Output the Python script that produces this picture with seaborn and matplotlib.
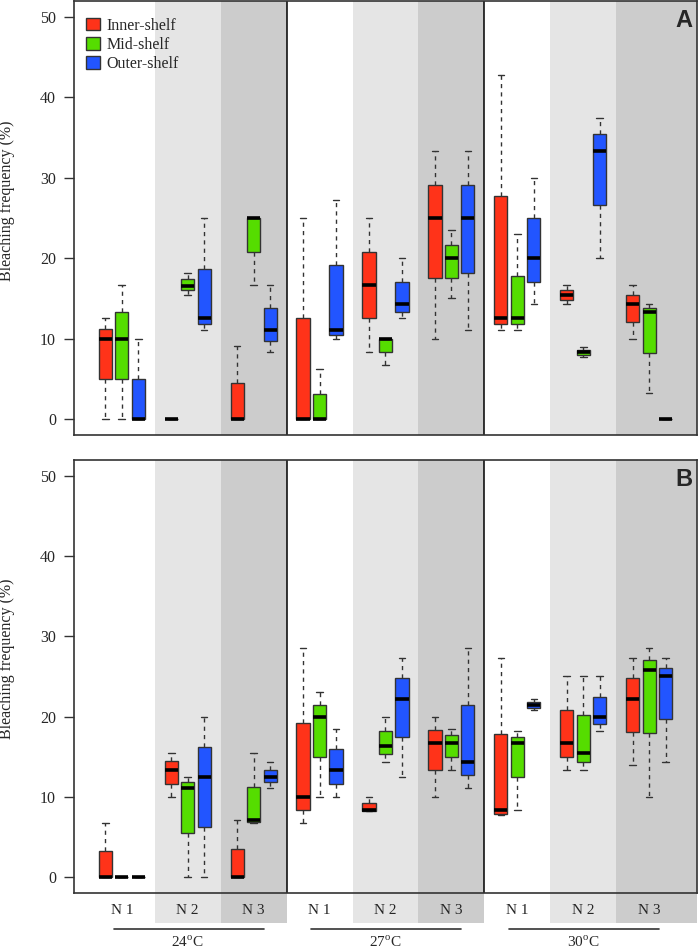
import numpy as np
import pandas as pd
import matplotlib
matplotlib.use("Agg")
import matplotlib.pyplot as plt
import matplotlib.transforms as mtransforms
from matplotlib.patches import Patch
import seaborn as sns

# categories
shelves = ["Inner-shelf", "Mid-shelf", "Outer-shelf"]
temps = ["24", "27", "30"]
nutrients = ["N 1", "N 2", "N 3"]
shelf_colors = ["#ff3319", "#55dd00", "#2255ff"]

# five-number summaries (min, q1, median, q3, max),
# one per group in order 24-N1, 24-N2, 24-N3, 27-N1 ... 30-N3
a_inner = [[0, 5, 10, 11.2, 12.5], [0, 0, 0, 0, 0], [0, 0, 0, 4.5, 9.1],
           [0, 0, 0, 12.5, 25], [8.3, 12.5, 16.7, 20.8, 25], [10, 17.5, 25, 29.1, 33.3],
           [11.1, 11.8, 12.5, 27.7, 42.8], [14.3, 14.8, 15.4, 16, 16.7], [10, 12.1, 14.3, 15.4, 16.7]]
a_mid = [[0, 5, 10, 13.3, 16.7], [15.4, 16.0, 16.6, 17.4, 18.1], [16.7, 20.8, 25, 25, 25],
         [0, 0, 0, 3.1, 6.2], [6.7, 8.3, 10, 10, 10], [15, 17.5, 20, 21.7, 23.5],
         [11.1, 11.8, 12.5, 17.8, 23], [7.7, 8.0, 8.3, 8.6, 9.0], [3.2, 8.2, 13.3, 13.8, 14.3]]
a_outer = [[0, 0, 0, 5, 10], [11.1, 11.8, 12.5, 18.7, 25], [8.3, 9.7, 11.1, 13.8, 16.7],
           [10, 10.5, 11.1, 19.1, 27.2], [12.5, 13.3, 14.3, 17.1, 20], [11.1, 18.1, 25, 29.1, 33.3],
           [14.3, 17.1, 20, 25, 30], [20, 26.6, 33.3, 35.4, 37.5], [0, 0, 0, 0, 0]]

b_inner = [[0, 0, 0, 3.3, 6.7], [10, 11.6, 13.3, 14.4, 15.4], [0, 0, 0, 3.5, 7.1],
           [6.7, 8.3, 10, 19.2, 28.5], [8.2, 8.2, 8.4, 9.2, 10], [10, 13.3, 16.7, 18.3, 20],
           [7.7, 7.9, 8.3, 17.8, 27.3], [13.3, 15, 16.7, 20.8, 25], [14, 18.1, 22.2, 24.8, 27.3]]
b_mid = [[0, 0, 0, 0, 0], [0, 5.5, 11.1, 11.8, 12.5], [6.7, 6.9, 7.1, 11.2, 15.4],
         [10, 15, 20, 21.5, 23.1], [14.3, 15.3, 16.3, 18.2, 20], [13.3, 15, 16.7, 17.7, 18.5],
         [8.3, 12.5, 16.7, 17.4, 18.2], [13.3, 14.3, 15.4, 20.2, 25], [10, 17.9, 25.8, 27.1, 28.5]]
b_outer = [[0, 0, 0, 0, 0], [0, 6.2, 12.5, 16.2, 20], [11.1, 11.8, 12.5, 13.3, 14.3],
           [10, 11.6, 13.3, 15.9, 18.5], [12.5, 17.4, 22.2, 24.8, 27.3], [11.1, 12.7, 14.3, 21.4, 28.5],
           [20.8, 21.1, 21.4, 21.8, 22.2], [18.2, 19.1, 20, 22.5, 25], [14.3, 19.7, 25, 26.1, 27.3]]


def make_frame(series):
    rows = []
    for s, boxes in enumerate(series):
        for g, vals in enumerate(boxes):
            for v in vals:
                rows.append({"pos": g * 4 + s + 1, "value": v, "shelf": shelves[s]})
    return pd.DataFrame(rows)


sns.set_style("ticks")
plt.rcParams["font.family"] = ["Liberation Serif", "DejaVu Serif"]
plt.rcParams["mathtext.fontset"] = "custom"
plt.rcParams["mathtext.rm"] = "Liberation Serif"

fig = plt.figure(figsize=(7, 9.49), dpi=100)
ax_a = fig.add_axes([0.1057, 0.5416, 0.8900, 0.4573])
ax_b = fig.add_axes([0.1057, 0.0590, 0.8900, 0.4563])

xlim = (-0.9, 36.9)
edge = "#333333"

for ax, series, letter in [(ax_a, [a_inner, a_mid, a_outer], "A"),
                           (ax_b, [b_inner, b_mid, b_outer], "B")]:
    df = make_frame(series)
    below = -0.069 if ax is ax_b else 0
    # background bands for N2 / N3
    for t in range(3):
        ax.axvspan(t * 12 + 4, t * 12 + 8, ymin=below, ymax=1, color="#e5e5e5",
                   lw=0, zorder=0, clip_on=False)
        right = xlim[1] if t == 2 else t * 12 + 12
        ax.axvspan(t * 12 + 8, right, ymin=below, ymax=1, color="#cccccc",
                   lw=0, zorder=0, clip_on=False)
    for x in [12, 24]:
        ax.axvline(x, color="black", lw=1.1, zorder=1)

    sns.boxplot(data=df, x="pos", y="value", hue="shelf", hue_order=shelves,
                palette=shelf_colors, saturation=1, native_scale=True, dodge=False,
                width=0.8, whis=np.inf, linecolor=edge, linewidth=1, fliersize=0,
                legend=False, ax=ax,
                medianprops={"color": "black", "linewidth": 2.6},
                whiskerprops={"linestyle": (0, (3, 3)), "color": edge},
                capprops={"color": edge})

    ax.set_xlim(*xlim)
    ax.set_ylim(-2, 52)
    ax.set_yticks([0, 10, 20, 30, 40, 50])
    ax.tick_params(axis="y", length=7, width=1, color=edge, labelsize=11.5, pad=6)
    ax.set_ylabel("Bleaching frequency (%)", fontsize=11.5)
    ax.yaxis.set_label_coords(-0.094, 0.54)
    ax.set_xlabel("")
    for sp in ax.spines.values():
        sp.set_color(edge)
        sp.set_linewidth(1.2)
        sp.set_zorder(5)
    ax.text(0.992, 0.982, letter, transform=ax.transAxes, ha="right", va="top",
            fontsize=17, fontweight="bold", family=["Liberation Sans", "DejaVu Sans"])

ax_a.set_xticks([])
ax_b.set_xticks([t * 12 + n * 4 + 2 for t in range(3) for n in range(3)])
ax_b.set_xticklabels(nutrients * 3)
ax_b.tick_params(axis="x", length=0, labelsize=11, pad=8)

trans = mtransforms.blended_transform_factory(ax_b.transData, ax_b.transAxes)
for t, temp in enumerate(temps):
    ax_b.plot([t * 12 + 1.5, t * 12 + 10.6], [-0.083, -0.083], transform=trans,
              color=edge, lw=1.2, clip_on=False)
    ax_b.text(t * 12 + 6, -0.113, temp + r"$^{\mathrm{o}}$C", transform=trans,
              ha="center", va="center", fontsize=11)

handles = [Patch(facecolor=c, edgecolor=edge, lw=1) for c in shelf_colors]
ax_a.legend(handles, shelves, loc="upper left", bbox_to_anchor=(0.02, 0.962),
            frameon=False, fontsize=11.5, handlelength=0.85, handleheight=0.85,
            labelspacing=0.2, handletextpad=0.4, borderpad=0, borderaxespad=0)

fig.savefig("out.png", dpi=100)
